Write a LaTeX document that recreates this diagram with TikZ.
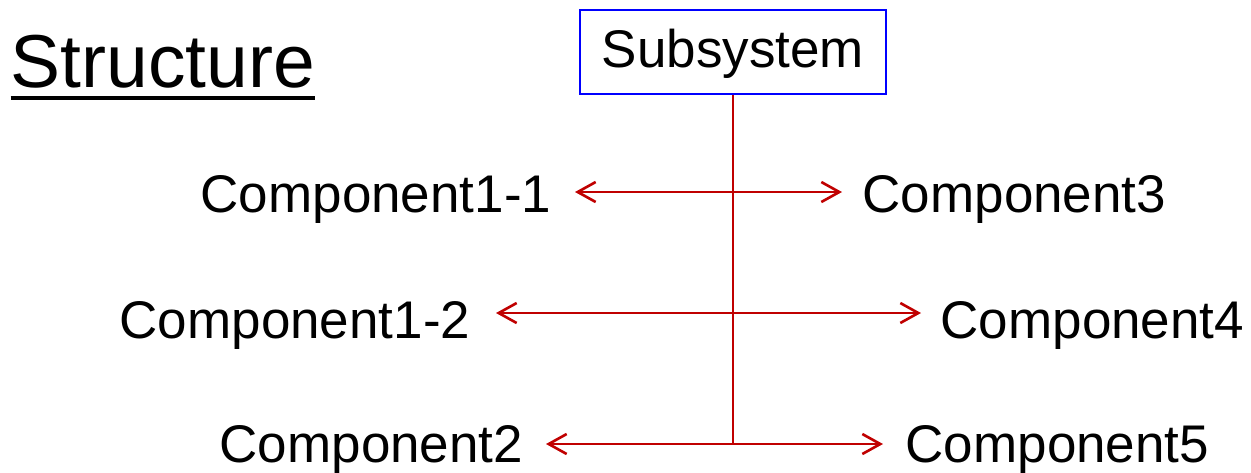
\documentclass[tikz,border=0pt]{standalone}
\usepackage{fontspec}
\setmainfont{Liberation Sans}
\usetikzlibrary{arrows.meta}
\definecolor{linkred}{RGB}{192,0,0}
\definecolor{boxblue}{RGB}{0,0,255}
\begin{document}
\begin{tikzpicture}[x=1pt,y=-1pt,
  comp/.style={inner sep=0pt, anchor=base west, font=\fontsize{53}{60}\selectfont},
  subsys/.style={draw=boxblue, line width=1.8pt, inner sep=0pt, minimum width=306pt,
    minimum height=84pt, text height=38pt, text depth=8pt, font=\fontsize{53}{60}\selectfont},
  title/.style={inner sep=0pt, anchor=base west, font=\fontsize{75}{84}\selectfont},
  link/.style={draw=linkred, line width=2.6pt},
  biarrow/.style={link, {Straight Barb[length=18pt,width=20pt]}-{Straight Barb[length=18pt,width=20pt]}}]
  \useasboundingbox (0,0) rectangle (1251,472);

  % heading with its underline
  \node[title] (st) at (10.5,87) {Structure};
  \draw[line width=4pt] ([yshift=-11pt]st.base west) -- ([yshift=-11pt]st.base east);

  % top-level block
  \node[subsys] (sub) at (733,52) {Subsystem};

  % components
  \node[comp] (c11) at (200.5,212) {Component1-1};
  \node[comp] (c12) at (119.5,338) {Component1-2};
  \node[comp] (c2)  at (219.5,462) {Component2};
  \node[comp] (c3)  at (862.5,212) {Component3};
  \node[comp] (c4)  at (940.5,338) {Component4};
  \node[comp] (c5)  at (905.5,462) {Component5};

  % arrow ends beside the components
  \coordinate (l1) at (575,192);  \coordinate (r1) at (842,192);
  \coordinate (l2) at (496,313);  \coordinate (r2) at (921,313);
  \coordinate (l3) at (546,444);  \coordinate (r3) at (883,444);
  \coordinate (trunkend) at (733,444);

  % trunk and branches
  \draw[link] (sub.south) -- (trunkend);
  \draw[biarrow] (l1) -- (r1);
  \draw[biarrow] (l2) -- (r2);
  \draw[biarrow] (l3) -- (r3);
\end{tikzpicture}
\end{document}
